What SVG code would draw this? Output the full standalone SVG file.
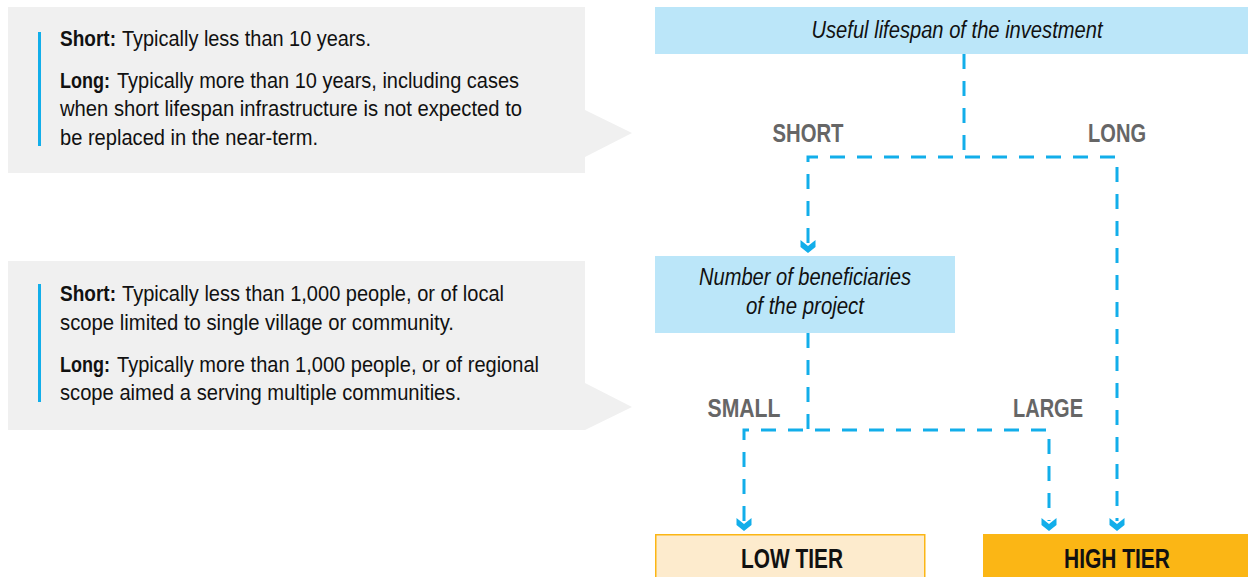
<svg xmlns="http://www.w3.org/2000/svg" width="1248" height="577" viewBox="0 0 1248 577">
<style>
.callout{fill:#f0f0f0}
.bar{fill:#12aeea}
.body{font-family:"Liberation Sans Narrow","Liberation Sans",Arial,sans-serif;font-size:22px;fill:#111}
.b{font-weight:bold}
.q{fill:#bbe6f9}
.qt{font-family:"Liberation Sans Narrow","Liberation Sans",Arial,sans-serif;font-size:23px;font-style:italic;fill:#111;text-anchor:middle}
.lab{font-family:"Liberation Sans Narrow","Liberation Sans",Arial,sans-serif;font-size:26px;font-weight:bold;fill:#666;text-anchor:middle}
.tier{font-family:"Liberation Sans Narrow","Liberation Sans",Arial,sans-serif;font-size:27px;font-weight:bold;fill:#111;text-anchor:middle}
.dash{fill:none;stroke:#12aeea;stroke-width:3;stroke-dasharray:15 12}
.ah{fill:#12aeea}
</style>
<defs>
<path id="arr" d="M-7.5,-13 L0,-7 L7.5,-13 L7.5,-6 L0,0 L-7.5,-6 Z"/>
</defs>
<rect width="1248" height="577" fill="#ffffff"/>

<g id="callout-lifespan">
<path class="callout" d="M8,7 H585 V110 L632,133 L585,157 V173 H8 Z"/>
<rect class="bar" x="38" y="32" width="3" height="114"/>
<text class="body b" x="60" y="46" textLength="56" lengthAdjust="spacingAndGlyphs">Short:</text>
<text class="body" x="122" y="46" textLength="249" lengthAdjust="spacingAndGlyphs">Typically less than 10 years.</text>
<text class="body b" x="60" y="88" textLength="50" lengthAdjust="spacingAndGlyphs">Long:</text>
<text class="body" x="117" y="88" textLength="402" lengthAdjust="spacingAndGlyphs">Typically more than 10 years, including cases</text>
<text class="body" x="60" y="116" textLength="462" lengthAdjust="spacingAndGlyphs">when short lifespan infrastructure is not expected to</text>
<text class="body" x="60" y="145" textLength="258" lengthAdjust="spacingAndGlyphs">be replaced in the near-term.</text>
</g>

<g id="callout-beneficiaries">
<path class="callout" d="M8,261 H585 V383 L632,407 L585,430 H8 Z"/>
<rect class="bar" x="38" y="284" width="3" height="118"/>
<text class="body b" x="60" y="301" textLength="56" lengthAdjust="spacingAndGlyphs">Short:</text>
<text class="body" x="122" y="301" textLength="382" lengthAdjust="spacingAndGlyphs">Typically less than 1,000 people, or of local</text>
<text class="body" x="60" y="330" textLength="394" lengthAdjust="spacingAndGlyphs">scope limited to single village or community.</text>
<text class="body b" x="60" y="372" textLength="50" lengthAdjust="spacingAndGlyphs">Long:</text>
<text class="body" x="117" y="372" textLength="422" lengthAdjust="spacingAndGlyphs">Typically more than 1,000 people, or of regional</text>
<text class="body" x="60" y="400" textLength="401" lengthAdjust="spacingAndGlyphs">scope aimed a serving multiple communities.</text>
</g>

<g id="node-lifespan">
<rect class="q" x="655" y="7" width="593" height="47"/>
<text class="qt" x="957" y="38" textLength="291" lengthAdjust="spacingAndGlyphs">Useful lifespan of the investment</text>
</g>

<g id="node-beneficiaries">
<rect class="q" x="655" y="256" width="300" height="77"/>
<text class="qt" x="805" y="285" textLength="212" lengthAdjust="spacingAndGlyphs">Number of beneficiaries</text>
<text class="qt" x="805" y="314" textLength="118" lengthAdjust="spacingAndGlyphs">of the project</text>
</g>

<g id="node-low">
<rect x="655.75" y="534.75" width="269" height="50" fill="#fdebcd" stroke="#fbb615" stroke-width="1.5"/>
<text class="tier" x="792" y="568" textLength="102" lengthAdjust="spacingAndGlyphs">LOW TIER</text>
</g>

<g id="node-high">
<rect x="983" y="534" width="265" height="50" fill="#fbb615"/>
<text class="tier" x="1117" y="568" textLength="106" lengthAdjust="spacingAndGlyphs">HIGH TIER</text>
</g>

<g id="connectors">
<path class="dash" d="M964,54 V157"/>
<path class="dash" d="M808,243 V157 H1117 V521"/>
<path class="dash" d="M808,333 V430"/>
<path class="dash" d="M744,521 V430 H1049 V521"/>
<use href="#arr" class="ah" x="808" y="253"/>
<use href="#arr" class="ah" x="744" y="531"/>
<use href="#arr" class="ah" x="1049" y="531"/>
<use href="#arr" class="ah" x="1117" y="531"/>
<text class="lab" x="808" y="142" textLength="71" lengthAdjust="spacingAndGlyphs">SHORT</text>
<text class="lab" x="1117" y="142" textLength="58" lengthAdjust="spacingAndGlyphs">LONG</text>
<text class="lab" x="744" y="417" textLength="73" lengthAdjust="spacingAndGlyphs">SMALL</text>
<text class="lab" x="1048" y="417" textLength="70" lengthAdjust="spacingAndGlyphs">LARGE</text>
</g>
</svg>
